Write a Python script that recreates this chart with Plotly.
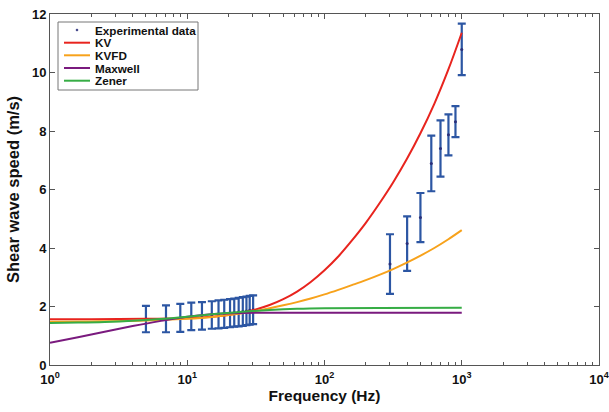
import plotly.graph_objects as go

# Measured shear wave speed (mean and error)
freq_exp = [5, 7, 8.9, 10.7, 12.8, 15.1, 16.9, 18.6, 20.5, 22.0, 23.7, 25.4, 27.0, 28.5, 30.2,
            300, 400, 500, 600, 700, 800, 900, 1000]
speed_exp = [1.57, 1.58, 1.61, 1.66, 1.68, 1.71, 1.73, 1.75, 1.77, 1.79, 1.81, 1.83, 1.85, 1.87, 1.89,
             3.45, 4.15, 5.04, 6.89, 7.40, 7.87, 8.32, 10.79]
err_exp = [0.45, 0.46, 0.48, 0.47, 0.47, 0.47, 0.48, 0.48, 0.48, 0.48, 0.49, 0.49, 0.49, 0.49, 0.49,
           1.02, 0.93, 0.84, 0.95, 0.96, 0.70, 0.53, 0.88]

# Fitted model curves
freq_kv = [1, 2, 5, 10, 12.6, 15.8, 20, 25.1, 31.6, 39.8, 50.1, 63.1, 79.4, 100, 126, 158,
           200, 251, 316, 398, 501, 631, 794, 1000]
speed_kv = [1.56, 1.56, 1.58, 1.60, 1.62, 1.655, 1.71, 1.79, 1.90, 2.05, 2.25, 2.51, 2.84, 3.24,
            3.71, 4.25, 4.86, 5.52, 6.24, 7.04, 7.93, 8.93, 10.07, 11.36]

freq_kvfd = [1, 2, 5, 10, 12.6, 15.8, 20, 25.1, 31.6, 39.8, 50.1, 63.1, 79.4, 100, 126, 158,
             200, 251, 316, 398, 501, 631, 794, 1000]
speed_kvfd = [1.48, 1.49, 1.52, 1.58, 1.61, 1.652, 1.706, 1.772, 1.85, 1.94, 2.04, 2.15, 2.275,
              2.415, 2.57, 2.73, 2.90, 3.08, 3.28, 3.50, 3.74, 4.00, 4.29, 4.61]

freq_maxwell = [1, 1.6, 2.5, 4, 6.3, 10, 15.8, 25.1, 39.8, 63.1, 100, 1000]
speed_maxwell = [0.76, 0.95, 1.14, 1.33, 1.50, 1.65, 1.74, 1.78, 1.79, 1.79, 1.79, 1.79]

freq_zener = [1, 1.6, 2.5, 4, 6.3, 10, 15.8, 25.1, 39.8, 63.1, 100, 251, 1000]
speed_zener = [1.44, 1.45, 1.47, 1.51, 1.57, 1.65, 1.74, 1.82, 1.88, 1.92, 1.94, 1.95, 1.96]

x_tickvals = [1, 10, 100, 1000, 10000]
x_ticktext = ["10<sup>0</sup>", "10<sup>1</sup>", "10<sup>2</sup>", "10<sup>3</sup>", "10<sup>4</sup>"]
y_tickvals = [0, 2, 4, 6, 8, 10, 12]

FONT = "Liberation Sans, Arial, Helvetica, sans-serif"
BLUE = "#2c56a3"
DOT = "#2a2f7a"

W, H = 609, 412
ML, MR, MT, MB = 50, 10, 14, 47
PW, PH = W - ML - MR, H - MT - MB


def px(xp):
    return (xp - ML) / PW


def py(yp):
    return (H - MB - yp) / PH


fig = go.Figure()

fig.add_trace(go.Scatter(
    x=freq_exp, y=speed_exp, mode="markers", name="Experimental data",
    marker=dict(size=3, color=DOT),
    error_y=dict(type="data", array=err_exp, color=BLUE, thickness=2.2, width=4),
))

models = [
    ("KV", freq_kv, speed_kv, "#e8241e"),
    ("KVFD", freq_kvfd, speed_kvfd, "#f7a21b"),
    ("Maxwell", freq_maxwell, speed_maxwell, "#7a1a7e"),
    ("Zener", freq_zener, speed_zener, "#36ad45"),
]
for name, fx, fy, col in models:
    fig.add_trace(go.Scatter(
        x=fx, y=fy, mode="lines", name=name,
        line=dict(color=col, width=2, shape="spline", smoothing=1.0),
    ))

axis_common = dict(
    showline=True, linecolor="#555555", linewidth=1, mirror="ticks",
    ticks="inside", ticklen=5, tickcolor="#555555",
    showgrid=False, zeroline=False, automargin=False,
    ticklabeloverflow="allow",
    tickfont=dict(family=FONT, size=13, color="#111111", weight="bold"),
)

fig.update_xaxes(
    type="log", range=[0, 4],
    tickvals=x_tickvals, ticktext=x_ticktext,
    minor=dict(ticks="inside", ticklen=3, tickcolor="#555555", dtick="D1", showgrid=False),
    ticklabelstandoff=2,
    title=dict(text="Frequency (Hz)", font=dict(family=FONT, size=15.5, color="#111111", weight="bold"),
               standoff=4),
    **axis_common,
)
fig.update_yaxes(
    range=[0, 12], tickvals=y_tickvals,
    title=dict(text="Shear wave speed (m/s)", font=dict(family=FONT, size=16.5, color="#111111", weight="bold"),
               standoff=8),
    **axis_common,
)

# Legend box drawn inside the axes, top left
shapes = [dict(type="rect", xref="paper", yref="paper",
               x0=px(58), x1=px(198), y0=py(90), y1=py(22),
               line=dict(color="#777777", width=1), fillcolor="white", layer="above")]
annotations = []
legend_rows = [("Experimental data", None)] + [(m[0], m[3]) for m in models]
row_y = [30, 42.7, 55.3, 68, 80.7]
for (label, col), yr in zip(legend_rows, row_y):
    if col is None:
        shapes.append(dict(type="circle", xref="paper", yref="paper",
                           x0=px(76), x1=px(78), y0=py(yr + 1), y1=py(yr - 1),
                           line=dict(color=DOT, width=0.5), fillcolor=DOT, layer="above"))
    else:
        shapes.append(dict(type="line", xref="paper", yref="paper",
                           x0=px(64), x1=px(90), y0=py(yr), y1=py(yr),
                           line=dict(color=col, width=2), layer="above"))
    annotations.append(dict(text=label, xref="paper", yref="paper",
                            x=px(92.5), y=py(yr), xanchor="left", yanchor="middle",
                            showarrow=False,
                            font=dict(family=FONT, size=11.7, color="#111111", weight="bold")))

fig.update_layout(
    width=W, height=H,
    margin=dict(l=ML, r=MR, t=MT, b=MB),
    paper_bgcolor="white", plot_bgcolor="white",
    showlegend=False,
    shapes=shapes,
    annotations=annotations,
)

fig.write_html("out.html")
